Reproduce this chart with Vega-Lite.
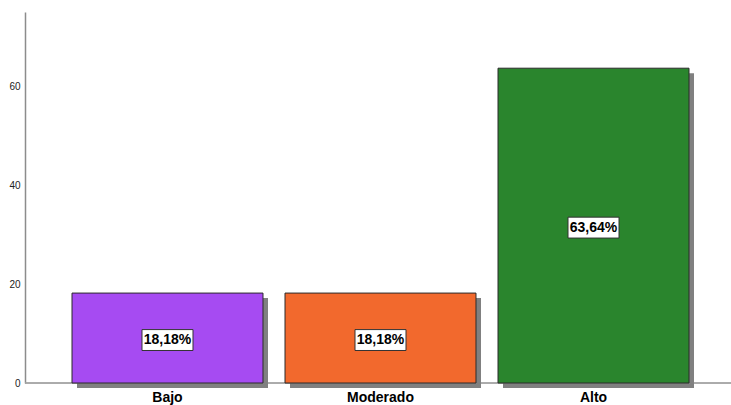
{
  "$schema": "https://vega.github.io/schema/vega-lite/v6.json",
  "width": 706,
  "height": 371,
  "autosize": {"type": "none"},
  "padding": {"left": 25, "top": 12, "right": 0, "bottom": 22},
  "background": "white",
  "config": {"view": {"stroke": null}, "font": "Liberation Sans"},
  "data": {
    "values": [
      {"nivel": "Bajo", "valor": 18.18, "etiqueta": "18,18%"},
      {"nivel": "Moderado", "valor": 18.18, "etiqueta": "18,18%"},
      {"nivel": "Alto", "valor": 63.64, "etiqueta": "63,64%"}
    ]
  },
  "encoding": {
    "x": {
      "field": "nivel",
      "type": "nominal",
      "sort": ["Bajo", "Moderado", "Alto"],
      "scale": {"range": [47, 664], "paddingInner": 0.1033, "paddingOuter": 0},
      "axis": {
        "title": null,
        "labelAngle": 0,
        "labelFont": "Liberation Sans",
        "labelFontSize": 14,
        "labelFontWeight": "bold",
        "labelColor": "#000000",
        "labelPadding": 7,
        "ticks": false,
        "domain": false,
        "grid": false
      }
    }
  },
  "resolve": {"scale": {"y": "independent"}},
  "layer": [
    {
      "layer": [
        {
          "mark": {"type": "rule", "color": "#a0a0a0", "strokeWidth": 1},
          "encoding": {
            "x": {"datum": 0, "type": "quantitative", "scale": null},
            "x2": {"datum": 706},
            "y": {
              "datum": 0,
              "type": "quantitative",
              "scale": {"domain": [0, 75], "nice": false},
              "axis": {
                "title": null,
                "values": [0, 20, 40, 60],
                "labelFont": "Liberation Sans",
                "labelFontSize": 10,
                "labelColor": "#222222",
                "labelPadding": 5,
                "ticks": false,
                "domainColor": "#8c8c8c",
                "domainWidth": 1.5,
                "gridColor": "#d4d4d4",
                "gridWidth": 1
              }
            }
          }
        },
        {
          "mark": {"type": "bar", "color": "#808080", "xOffset": 5, "x2Offset": 5, "yOffset": 5, "y2Offset": 5},
          "encoding": {
            "y": {"field": "valor", "type": "quantitative"},
            "y2": {"datum": 0}
          }
        },
        {
          "mark": {"type": "bar", "stroke": "#2b2b2b", "strokeWidth": 1},
          "encoding": {
            "y": {"field": "valor", "type": "quantitative"},
            "y2": {"datum": 0},
            "color": {
              "field": "nivel",
              "type": "nominal",
              "scale": {"domain": ["Bajo", "Moderado", "Alto"], "range": ["#a64bf2", "#f2692d", "#2a852d"]},
              "legend": null
            }
          }
        }
      ]
    },
    {
      "encoding": {
        "y": {"field": "valor", "type": "quantitative", "scale": {"domain": [0, 150], "nice": false}, "axis": null}
      },
      "layer": [
        {
          "mark": {"type": "point", "shape": "M-1,-0.41H1V0.41H-1Z", "size": 2601, "filled": true, "fill": "white", "stroke": "#333333", "strokeWidth": 1, "opacity": 1, "yOffset": 2}
        },
        {
          "mark": {"type": "text", "font": "Liberation Sans", "fontSize": 14, "fontWeight": "bold", "color": "#000000", "baseline": "middle", "align": "center", "yOffset": 2},
          "encoding": {"text": {"field": "etiqueta"}}
        }
      ]
    }
  ]
}
